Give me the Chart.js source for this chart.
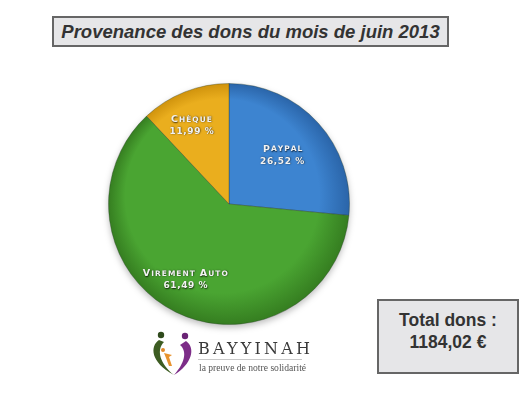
<!DOCTYPE html>
<html lang="fr">
<head>
<meta charset="utf-8">
<title>Provenance des dons du mois de juin 2013</title>
<script src="https://cdn.jsdelivr.net/npm/chart.js@4/dist/chart.umd.min.js"></script>
<style>
  body { margin: 0; background: #fff; font-family: "Liberation Sans", Arial, sans-serif; }
  #page { position: relative; width: 529px; height: 397px; overflow: hidden; background: #fff; }
  .box { position: absolute; background: #e6e6e8; border: 2px solid #666; box-sizing: border-box; color: #333; font-weight: bold; }
  #title { left: 52px; top: 16px; width: 397px; height: 31px; font-style: italic; font-size: 18.5px; line-height: 27px; text-align: center; }
  #total { left: 377px; top: 299px; width: 142px; height: 75px; font-size: 17.5px; line-height: 22px; text-align: center; padding-top: 8px; }
  #pie { position: absolute; left: 108px; top: 83px; width: 242px; height: 242px; filter: drop-shadow(0 3px 3px rgba(0,0,0,0.25)); }
  #logo { position: absolute; left: 150px; top: 328px; width: 160px; height: 52px; }
  #brand { position: absolute; left: 198px; top: 339px; font-family: "DejaVu Serif", "Liberation Serif", serif; font-size: 16px; letter-spacing: 3.2px; color: #3a3a3a; }
  #rule { position: absolute; left: 198px; top: 359px; width: 104px; height: 1px; background: #c8c8c8; }
  #tagline { position: absolute; left: 199px; top: 362px; font-family: "Liberation Serif", serif; font-size: 9.6px; color: #555; }
</style>
</head>
<body>
<div id="page">
  <div class="box" id="title">Provenance des dons du mois de juin 2013</div>
  <div id="pie"><canvas id="myChart"></canvas></div>
  <div class="box" id="total">Total dons :<br>1184,02 €</div>
  <svg id="logo" viewBox="0 0 160 52" width="160" height="52">
    <!-- green figure -->
    <circle cx="11" cy="7" r="3.2" fill="#2f4a1c"/>
    <path d="M9 12 C 0 18, 0 34, 24 47 C 10 36, 6 22, 14 14 Z" fill="#3d5c22"/>
    <!-- purple figure -->
    <circle cx="35" cy="8" r="3.2" fill="#6a2375"/>
    <path d="M36 13 C 46 20, 42 36, 24 47 C 34 36, 38 24, 30 17 Z" fill="#7d2d88"/>
    <!-- orange child -->
    <circle cx="13" cy="22" r="2" fill="#e0892a"/>
    <path d="M14 25 L 22 27 L 19 29 L 22 38 L 19 38 L 16 30 Z" fill="#e8932e"/>
  </svg>
  <div id="brand">BAYYINAH</div>
  <div id="rule"></div>
  <div id="tagline">la preuve de notre solidarité</div>
</div>
<script>
'use strict';

//data
const sources = ['Paypal', 'Virement Auto', 'Chèque'];
const shares = [26.52, 61.49, 11.99];
const lightColors = ['#3d84d0', '#4aa532', '#eaae1e'];
const darkColors = ['#2a64a8', '#357d20', '#cf920c'];

//helpers

function shade(context) {
  const chart = context.chart;
  const area = chart.chartArea;
  if(!area) {
    return lightColors[context.dataIndex];
  }
  const cx = (area.left + area.right) / 2;
  const cy = (area.top + area.bottom) / 2;
  const r = Math.min(area.width, area.height) / 2;
  const g = chart.ctx.createRadialGradient(cx - r * 0.25, cy - r * 0.3, r * 0.1, cx, cy, r);
  g.addColorStop(0, lightColors[context.dataIndex]);
  g.addColorStop(0.78, lightColors[context.dataIndex]);
  g.addColorStop(1, darkColors[context.dataIndex]);
  return g;
}

function percent(value) {
  return value.toFixed(2).replace('.', ',') + ' %';
}

//draw a word in small caps: first letter bigger, rest upper case smaller
function smallCaps(ctx, text, x, y) {
  const parts = text.split(' ');
  const pieces = [];
  let width = 0;
  parts.forEach(function(word, i) {
    const first = word[0].toUpperCase();
    const rest = word.slice(1).toUpperCase();
    ctx.font = 'bold 9.5px "DejaVu Sans"';
    const w1 = ctx.measureText(first).width + 1;
    ctx.font = 'bold 7.5px "DejaVu Sans"';
    const w2 = ctx.measureText(rest).width + rest.length * 1;
    pieces.push({first, rest, w1, w2});
    width += w1 + w2 + (i ? 4 : 0);
  });
  let cursor = x - width / 2;
  pieces.forEach(function(p, i) {
    if(i) {
      cursor += 4;
    }
    ctx.font = 'bold 9.5px "DejaVu Sans"';
    ctx.fillText(p.first, cursor, y);
    cursor += p.w1;
    ctx.font = 'bold 7.5px "DejaVu Sans"';
    for(const ch of p.rest) {
      ctx.fillText(ch, cursor, y);
      cursor += ctx.measureText(ch).width + 1;
    }
  });
}

const sliceLabels = {
  id: 'sliceLabels',
  afterDatasetsDraw(chart) {
    const ctx = chart.ctx;
    const arcs = chart.getDatasetMeta(0).data;
    ctx.save();
    ctx.fillStyle = '#f2f2f2';
    ctx.shadowColor = 'rgba(0,0,0,0.75)';
    ctx.shadowBlur = 1.5;
    ctx.shadowOffsetX = 0.5;
    ctx.shadowOffsetY = 0.5;
    ctx.textBaseline = 'middle';
    arcs.forEach(function(arc, i) {
      const mid = (arc.startAngle + arc.endAngle) / 2;
      const r = arc.outerRadius * (i === 0 ? 0.6 : 0.7);
      const x = arc.x + Math.cos(mid) * r - (i === 0 ? 0 : 6);
      const y = arc.y + Math.sin(mid) * r;
      ctx.textAlign = 'left';
      smallCaps(ctx, sources[i], x, y - 6);
      ctx.font = 'bold 9px "DejaVu Sans"';
      const label = percent(shares[i]);
      let cursor = x - (ctx.measureText(label).width + label.length * 0.6) / 2;
      for(const ch of label) {
        ctx.fillText(ch, cursor, y + 6);
        cursor += ctx.measureText(ch).width + 0.6;
      }
    });
    ctx.restore();
  }
};

//main

const config = {
  type: 'pie',
  data: {
    labels: sources,
    datasets: [{
      data: shares,
      backgroundColor: shade,
      borderColor: 'rgba(40,60,40,0.35)',
      borderWidth: 1,
      hoverOffset: 0
    }]
  },
  options: {
    responsive: true,
    maintainAspectRatio: false,
    animation: false,
    layout: { padding: 0 },
    plugins: {
      legend: { display: false },
      tooltip: { enabled: false },
      title: { display: false }
    }
  },
  plugins: [sliceLabels]
};

const myChart = new Chart(document.getElementById('myChart'), config);
</script>
</body>
</html>
